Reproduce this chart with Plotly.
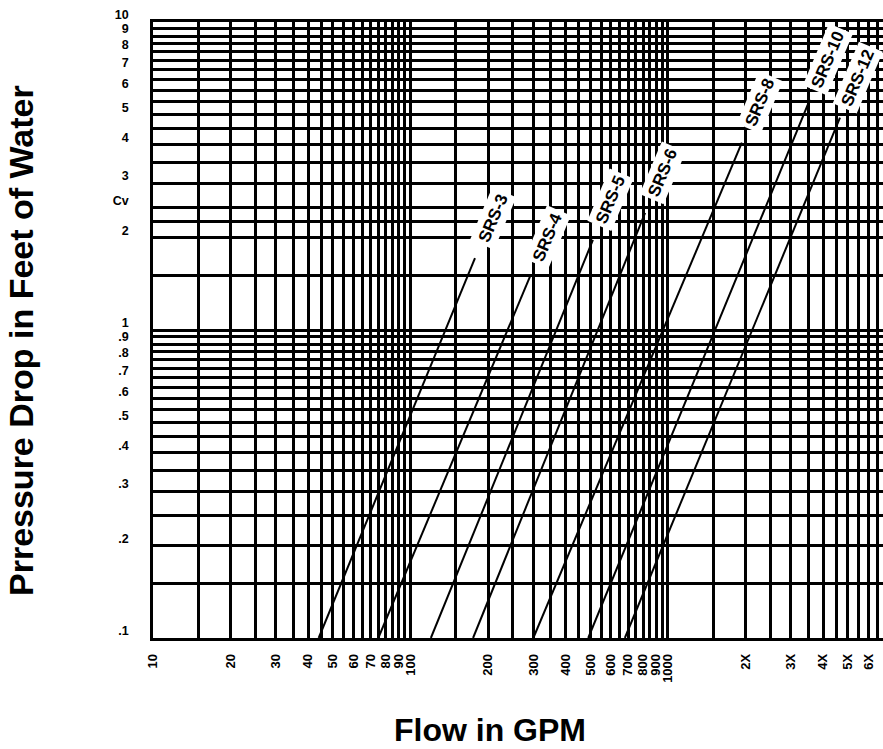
import math
import plotly.graph_objects as go

# ---- data ----
models = ["SRS-3", "SRS-4", "SRS-5", "SRS-6", "SRS-8", "SRS-10", "SRS-12"]
flow_low = [44, 75, 120, 175, 300, 490, 680]          # GPM at lower end of each line
drop_low = [0.1, 0.1, 0.1, 0.1, 0.1, 0.1, 0.1]        # ft of water
flow_high = [178, 291, 511, 815, 1936, 3556, 4656]     # GPM at upper end (label)
drop_high = [1.71, 1.49, 1.96, 2.40, 4.06, 5.60, 4.89]

x_tick_vals = [10, 20, 30, 40, 50, 60, 70, 80, 90, 100,
               200, 300, 400, 500, 600, 700, 800, 900, 1000,
               2000, 3000, 4000, 5000, 6000]
x_tick_text = ["10", "20", "30", "40", "50", "60", "70", "80", "90", "100",
               "200", "300", "400", "500", "600", "700", "800", "900", "1000",
               "2X", "3X", "4X", "5X", "6X"]
x_minor_vals = [15, 25, 35, 45, 55, 65, 75, 85, 95,
                150, 250, 350, 450, 550, 650, 750, 850, 950,
                1500, 2500, 3500, 4500, 5500, 6500]

y_tick_vals = [0.1, 0.2, 0.3, 0.4, 0.5, 0.6, 0.7, 0.8, 0.9, 1,
               2, 2.5, 3, 4, 5, 6, 7, 8, 9, 10]
y_tick_text = [".1", ".2", ".3", ".4", ".5", ".6", ".7", ".8", ".9", "1",
               "2", "Cv", "3", "4", "5", "6", "7", "8", "9", "10"]
y_minor_vals = [0.15, 0.25, 0.35, 0.45, 0.55, 0.65, 0.75, 0.85, 0.95,
                1.5, 2.25, 3.5, 4.5, 5.5, 6.5, 7.5, 8.5, 9.5]

x_title = "Flow in GPM"
y_title = "Prressure Drop in Feet of Water"

FONT = "Liberation Sans, Arial, Helvetica, sans-serif"

fig = go.Figure()
for name, q0, d0, q1, d1 in zip(models, flow_low, drop_low, flow_high, drop_high):
    fig.add_trace(go.Scatter(x=[q0, q1], y=[d0, d1], mode="lines", name=name,
                             line=dict(color="black", width=2),
                             showlegend=False, hoverinfo="name"))
    fig.add_annotation(x=math.log10(q1), y=math.log10(d1), text="<b>%s</b>" % name,
                       showarrow=False, textangle=-67, xshift=18, yshift=40,
                       font=dict(family=FONT, size=17, color="black"),
                       bgcolor="white", borderpad=3)

grid = dict(showgrid=True, gridcolor="black", gridwidth=2.5)

fig.update_xaxes(type="log", range=[1, 3.835],
                 tickmode="array", tickvals=x_tick_vals, ticktext=x_tick_text,
                 tickangle=-90, ticks="", ticklabelstandoff=8,
                 tickfont=dict(family=FONT, size=13, color="black", weight="bold"),
                 showline=True, linecolor="black", linewidth=2.5, mirror=True,
                 minor=dict(tickmode="array", tickvals=x_minor_vals, ticks="",
                            showgrid=True, gridcolor="black", gridwidth=2.5),
                 **grid)
fig.update_yaxes(type="log", range=[-1, 1],
                 tickmode="array", tickvals=y_tick_vals, ticktext=y_tick_text,
                 ticks="", ticklabelstandoff=19, ticklabelshift=-7,
                 tickfont=dict(family=FONT, size=12.5, color="black", weight="bold"),
                 showline=True, linecolor="black", linewidth=2.5,
                 minor=dict(tickmode="array", tickvals=y_minor_vals, ticks="",
                            showgrid=True, gridcolor="black", gridwidth=2.5),
                 **grid)

fig.add_annotation(xref="paper", yref="paper", x=(490 - 153) / 730, y=(638 - 730) / 616,
                   text="<b>%s</b>" % x_title, showarrow=False,
                   font=dict(family=FONT, size=32, color="black"),
                   xanchor="center", yanchor="middle")
fig.add_annotation(xref="paper", yref="paper", x=(21 - 153) / 730, y=(638 - 341) / 616,
                   text="<b>%s</b>" % y_title, showarrow=False, textangle=-90,
                   font=dict(family=FONT, size=34, color="black"),
                   xanchor="center", yanchor="middle")

fig.update_layout(width=883, height=749,
                  margin=dict(l=153, r=0, t=22, b=111),
                  paper_bgcolor="white", plot_bgcolor="white",
                  showlegend=False)

fig.write_html("out.html", config={"displayModeBar": False},
               post_script="document.body.style.margin='0';document.body.style.overflow='hidden';")
